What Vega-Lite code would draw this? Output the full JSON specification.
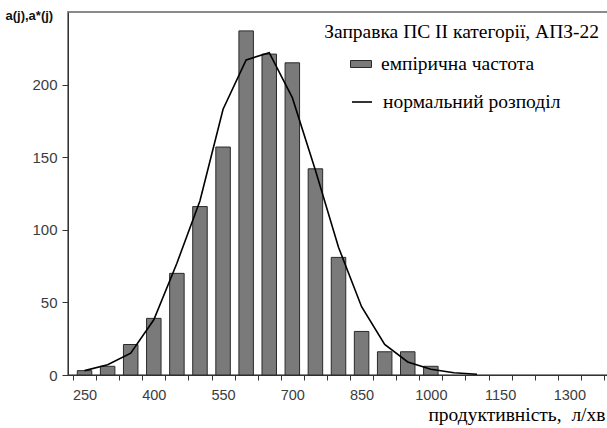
{
  "$schema": "https://vega.github.io/schema/vega-lite/v6.json",
  "width": 541,
  "height": 363,
  "autosize": {"type": "none"},
  "padding": {"left": 68, "top": 12, "right": 0, "bottom": 53},
  "background": "white",
  "config": {
    "view": {"stroke": "#8a8a8a", "strokeWidth": 2},
    "font": "Liberation Sans"
  },
  "title": {
    "text": "Заправка ПС II категорії, АПЗ-22",
    "anchor": "end",
    "frame": "group",
    "font": "Liberation Serif",
    "fontSize": 19.5,
    "fontWeight": "normal",
    "color": "#000",
    "dx": -10,
    "dy": 33,
    "offset": 0
  },
  "datasets": {
    "bars": [
      {"x": 250, "a": 3},
      {"x": 300, "a": 6},
      {"x": 350, "a": 21},
      {"x": 400, "a": 39},
      {"x": 450, "a": 70},
      {"x": 500, "a": 116},
      {"x": 550, "a": 157},
      {"x": 600, "a": 237},
      {"x": 650, "a": 221},
      {"x": 700, "a": 215},
      {"x": 750, "a": 142},
      {"x": 800, "a": 81},
      {"x": 850, "a": 30},
      {"x": 900, "a": 16},
      {"x": 950, "a": 16},
      {"x": 1000, "a": 6}
    ],
    "curve": [
      {"x": 250, "a_star": 3},
      {"x": 300, "a_star": 7},
      {"x": 350, "a_star": 15},
      {"x": 400, "a_star": 38},
      {"x": 450, "a_star": 77},
      {"x": 500, "a_star": 120},
      {"x": 550, "a_star": 183},
      {"x": 600, "a_star": 217},
      {"x": 650, "a_star": 222},
      {"x": 700, "a_star": 191},
      {"x": 750, "a_star": 141},
      {"x": 800, "a_star": 88},
      {"x": 850, "a_star": 47},
      {"x": 900, "a_star": 21},
      {"x": 950, "a_star": 9},
      {"x": 1000, "a_star": 4},
      {"x": 1050, "a_star": 1.5},
      {"x": 1100, "a_star": 0.5}
    ]
  },
  "resolve": {"axis": {"x": "independent"}},
  "layer": [
    {
      "data": {"name": "bars"},
      "mark": {"type": "bar", "width": 14.5, "stroke": "#2a2a2a", "strokeWidth": 1},
      "encoding": {
        "x": {
          "field": "x",
          "type": "quantitative",
          "title": "продуктивність,\u00a0 л/хв",
          "scale": {"domain": [225, 1375], "nice": false, "zero": false},
          "axis": {
            "orient": "bottom",
            "values": [250, 400, 550, 700, 850, 1000, 1150, 1300],
            "format": "d",
            "ticks": false,
            "labelOverlap": false,
            "labelFlush": false,
            "grid": false,
            "domainColor": "#333",
            "labelPadding": 13,
            "labelFontSize": 14.5,
            "labelColor": "#3c3c3c",
            "titleFont": "Liberation Serif",
            "titleFontSize": 19.5,
            "titleFontWeight": "normal",
            "titleColor": "#000",
            "titleAlign": "right",
            "titleBaseline": "middle",
            "titleX": 537,
            "titleY": 39
          }
        },
        "y": {
          "field": "a",
          "type": "quantitative",
          "title": "a(j),a*(j)",
          "scale": {"domain": [0, 250], "nice": false},
          "axis": {
            "values": [0, 50, 100, 150, 200],
            "grid": false,
            "tickSize": 6,
            "tickColor": "#333",
            "domainColor": "#333",
            "labelPadding": 5,
            "labelFontSize": 15,
            "labelColor": "#3c3c3c",
            "titleAngle": 0,
            "titleAlign": "left",
            "titleBaseline": "middle",
            "titleX": -63,
            "titleY": 3.5,
            "titleFontSize": 13,
            "titleFontWeight": "bold",
            "titleColor": "#111"
          }
        },
        "fill": {
          "datum": "емпірична частота",
          "scale": {"range": ["#7a7a7a"]},
          "legend": {
            "orient": "none",
            "legendX": 282,
            "legendY": 41,
            "title": null,
            "padding": 0,
            "symbolType": "M-1,-0.333H1V0.333H-1Z",
            "symbolSize": 441,
            "symbolStrokeColor": "#2a2a2a",
            "symbolStrokeWidth": 1,
            "labelFont": "Liberation Serif",
            "labelFontSize": 19.5,
            "labelColor": "#000",
            "labelOffset": 9,
            "labelLimit": 300
          }
        }
      }
    },
    {
      "data": {"name": "curve"},
      "mark": {"type": "line", "strokeWidth": 1.6},
      "encoding": {
        "x": {
          "field": "x",
          "type": "quantitative",
          "axis": {
            "orient": "bottom",
            "values": [225, 275, 325, 375, 425, 475, 525, 575, 625, 675, 725, 775, 825, 875, 925, 975, 1025, 1075, 1125, 1175, 1225, 1275, 1325, 1375],
            "labels": false,
            "domain": false,
            "grid": false,
            "ticks": true,
            "tickSize": 5,
            "tickColor": "#333",
            "title": null
          }
        },
        "y": {"field": "a_star", "type": "quantitative", "title": "a(j),a*(j)"},
        "stroke": {
          "datum": "нормальний розподіл",
          "scale": {"range": ["#000"]},
          "legend": {
            "orient": "none",
            "legendX": 283,
            "legendY": 79,
            "title": null,
            "padding": 0,
            "symbolType": "stroke",
            "symbolSize": 400,
            "symbolStrokeWidth": 1.6,
            "labelFont": "Liberation Serif",
            "labelFontSize": 19.5,
            "labelColor": "#000",
            "labelOffset": 10,
            "labelLimit": 300
          }
        }
      }
    }
  ]
}
